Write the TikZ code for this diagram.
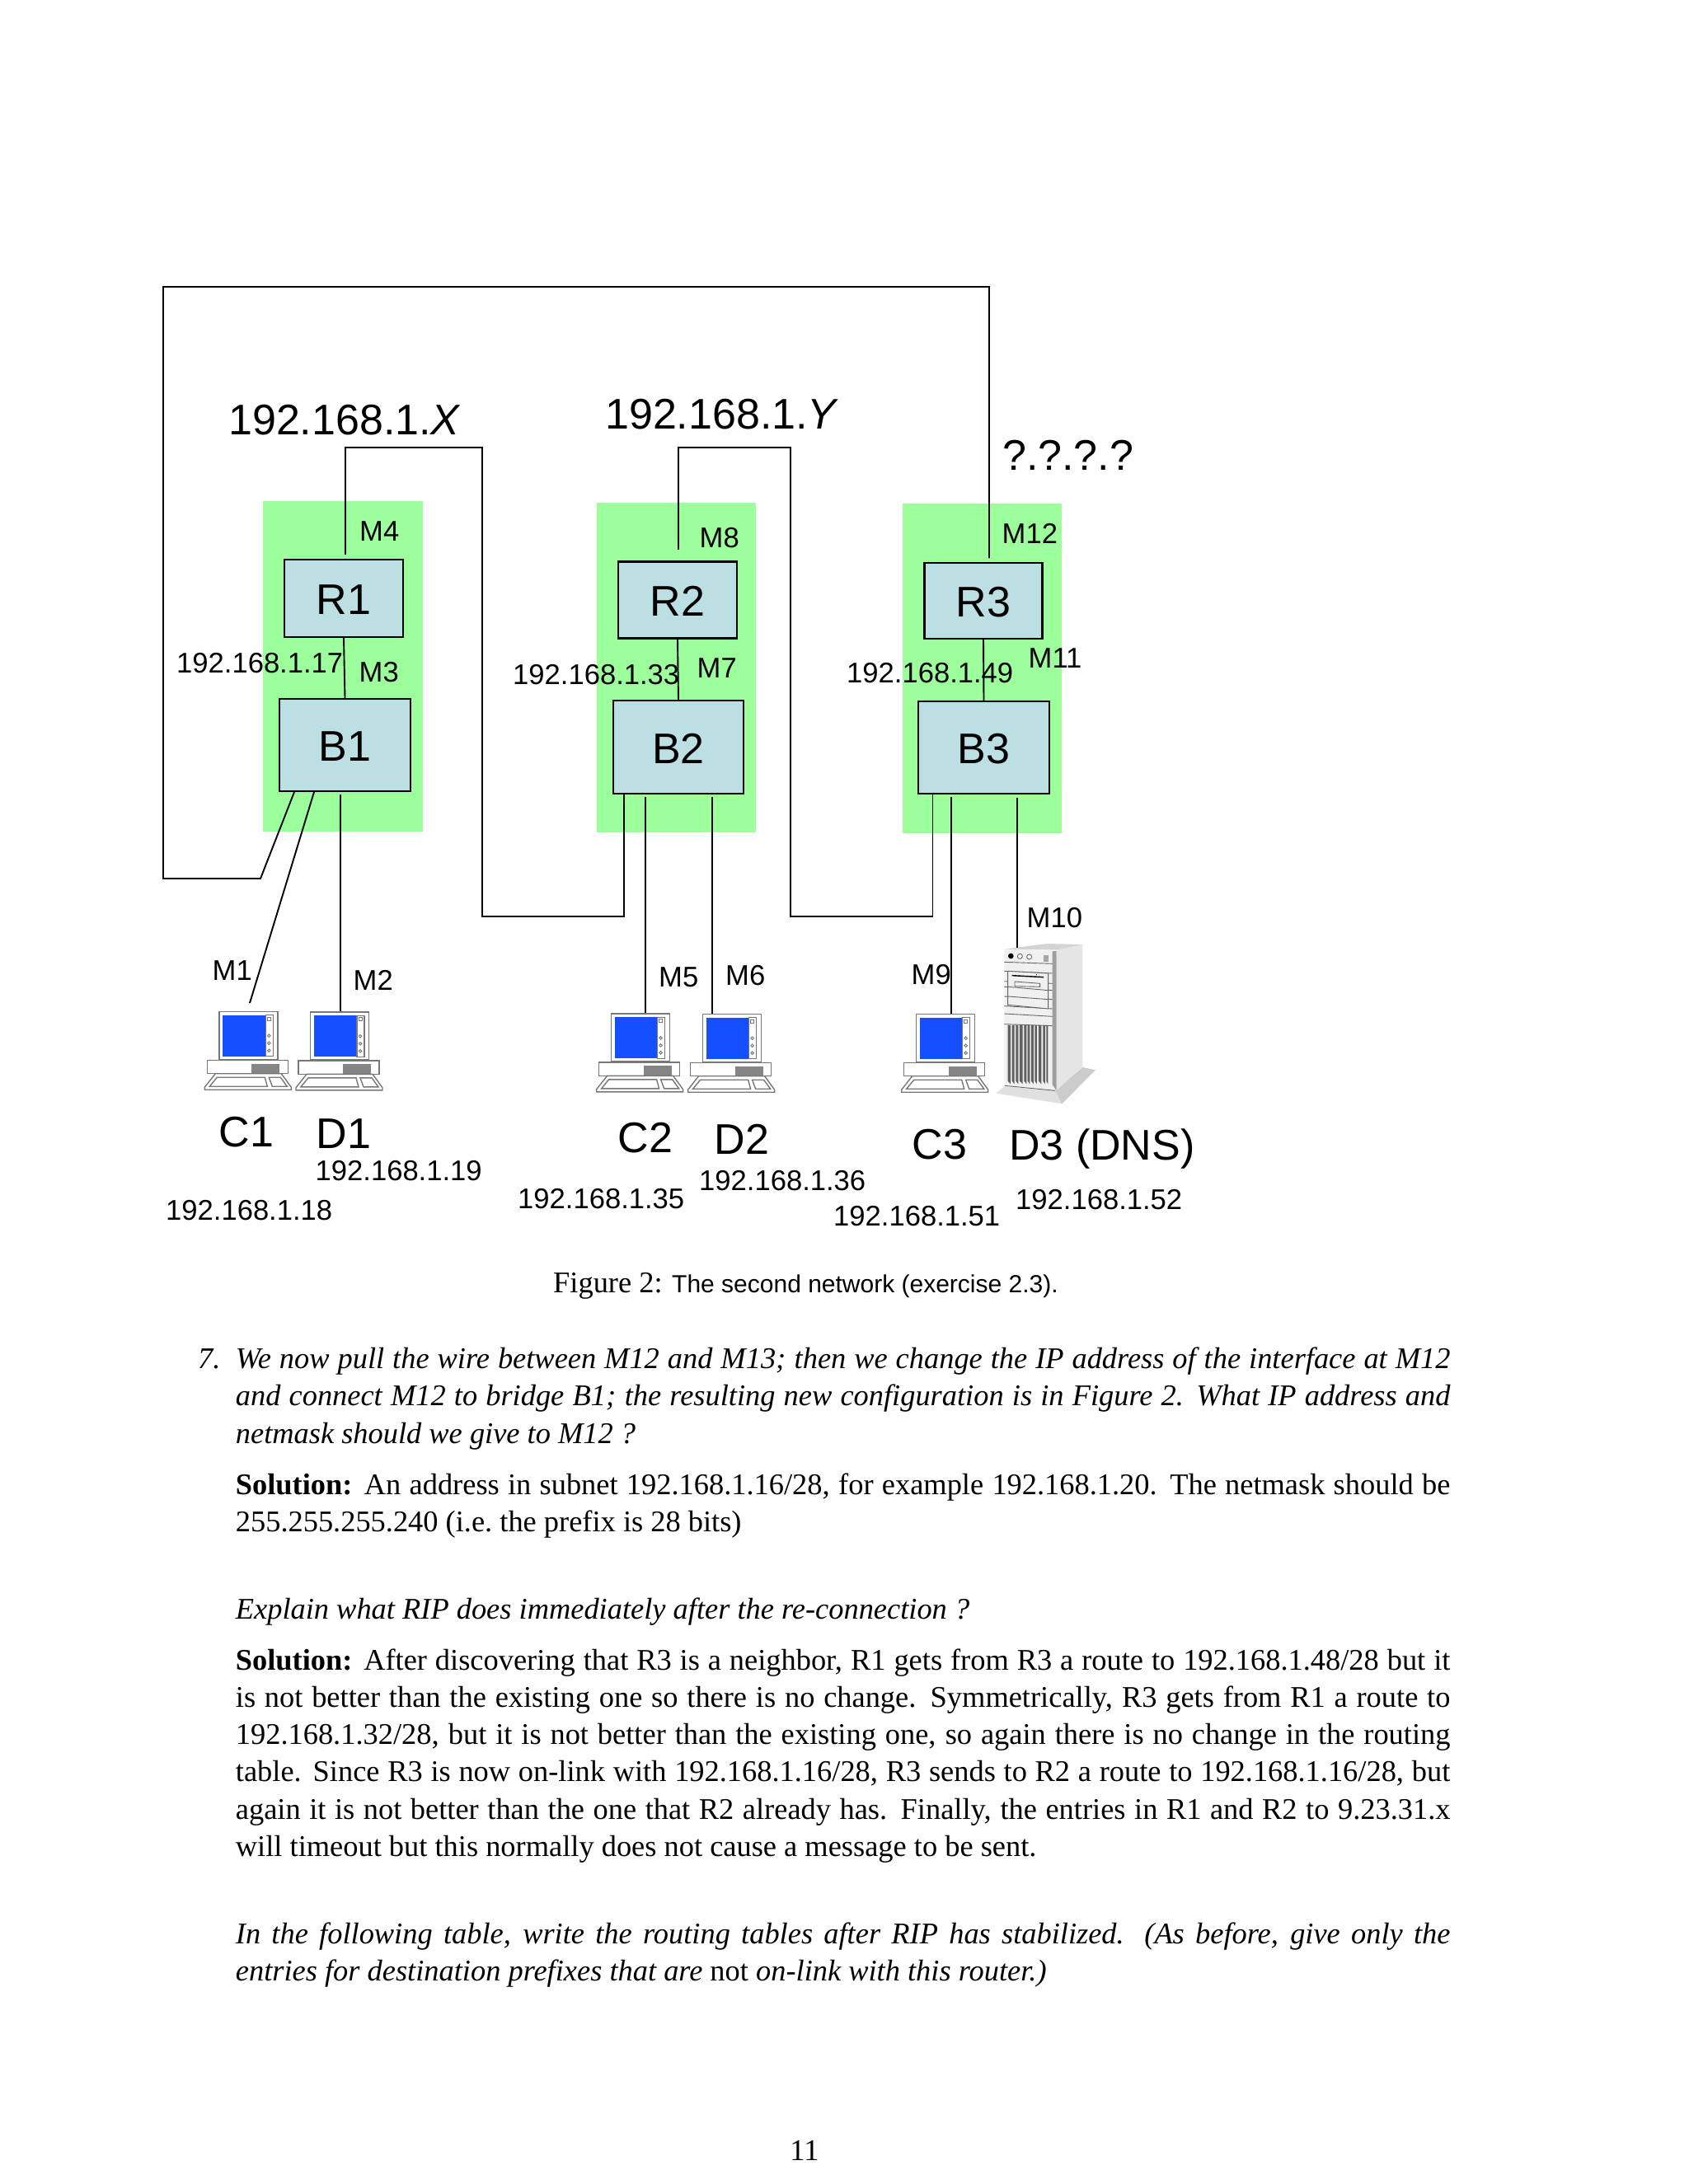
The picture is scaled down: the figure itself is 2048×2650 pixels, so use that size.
\documentclass[tikz,border=0pt]{standalone}
\usepackage{fontspec}
\setmainfont{Liberation Serif}
\setsansfont{Liberation Sans}
\usetikzlibrary{calc}
\definecolor{ink}{HTML}{000000}
\definecolor{zone}{HTML}{9CFF9C}
\definecolor{boxfill}{HTML}{BBDFE3}
\definecolor{screen}{HTML}{1450FF}
\definecolor{casing}{HTML}{777777}
\tikzset{
  wire/.style={line width=1.9pt, color=ink},
  devbox/.style={draw=ink, fill=boxfill, line width=2.2pt, inner sep=0pt, text height=39pt, text depth=0pt,
    font=\sffamily\fontsize{52}{52}\selectfont},
  lab/.style={inner sep=0pt, anchor=base west, text=ink, font=\sffamily\fontsize{34.6}{34.6}\selectfont},
  biglab/.style={lab, font=\sffamily\fontsize{52}{52}\selectfont},
  para/.style={inner sep=0pt, anchor=base west, text width=1473.5pt, align=justify,
    font=\rmfamily\fontsize{36.4}{45.3}\selectfont},
  pcline/.style={draw=casing, line width=1.4pt, fill=white},
  srvline/.style={draw=black!60, line width=0.9pt},
  pics/pc/.style={code={
    \node[pcline, anchor=north west, minimum width=71pt, minimum height=58pt, inner sep=0pt] (-mon) at (0,0) {};
    \fill[screen] (5,5) rectangle (57,55);
    \draw[pcline] (57,5) rectangle (66,55);
    \draw[pcline, line width=0.9pt] (59,7.5) rectangle (63,11.5);
    \foreach \y in {30,39,48} {\draw[pcline, line width=0.9pt] (61,\y) circle (1.8);}
    \draw[pcline] (-14,59.5) rectangle (84,76);
    \fill[casing!90] (40,64) rectangle (74,76);
    \draw[pcline] (-4,76) -- (76,76) -- (88,92.5) -- (88,95.5) -- (-17,95.5) -- (-17,92.5) -- cycle;
    \draw[pcline] (-2,80.5) -- (56,80.5) -- (59,91.5) -- (-11,91.5) -- cycle;
    \draw[pcline] (61,80.5) -- (75,80.5) -- (83,91.5) -- (65,91.5) -- cycle;
  }},
}
\begin{document}
\begin{tikzpicture}[x=1pt,y=-1pt]
  \useasboundingbox (0,0) rectangle (2048,2650);
  % green zones behind the routers
  \fill[zone] (319,608) rectangle (513,1009);
  \fill[zone] (724,610) rectangle (917,1010);
  \fill[zone] (1095,611) rectangle (1287.5,1011);

  \node[devbox, minimum width=144pt, minimum height=94pt] (R1) at (417,726) {R1};
  \node[devbox, minimum width=159pt, minimum height=112pt] (B1) at (418.5,904) {B1};
  \node[devbox, minimum width=144pt, minimum height=93pt] (R2) at (822,728) {R2};
  \node[devbox, minimum width=158pt, minimum height=113pt] (B2) at (823,906.5) {B2};
  \node[devbox, minimum width=143pt, minimum height=92pt] (R3) at (1193,729) {R3};
  \node[devbox, minimum width=159pt, minimum height=112pt] (B3) at (1193.5,907) {B3};

  % PCs
  \pic (C1pc) at (265.3,1226.7) {pc};
  \pic (D1pc) at (376,1227.3) {pc};
  \pic (C2pc) at (740.6,1229.3) {pc};
  \pic (D2pc) at (851.6,1229.7) {pc};
  \pic (C3pc) at (1110.7,1229.7) {pc};

  % DNS server
  \begin{scope}[shift={(1050,1080)},x=0.3333pt,y=-0.3333pt]
    \fill[black!12] (475,740) -- (505,715) -- (690,730) -- (715,778) -- cycle;
    \fill[black!20] (690,730) -- (790,645) -- (837,655) -- (715,778) -- cycle;
    \fill[black!10] (695,218) -- (790,198) -- (790,642) -- (695,730) -- cycle;
    \fill[black!17] (505,215) -- (660,195) -- (790,198) -- (695,218) -- cycle;
    \fill[black!6] (505,215) -- (695,218) -- (695,730) -- (505,712) -- cycle;
    \fill[black!38] (680,222) -- (695,222) -- (695,730) -- (680,708) -- cycle;
    \fill[black] (529,240) circle (10);
    \draw[srvline, fill=white] (562,241) circle (9) (596,243) circle (9);
    \fill[black!35] (648,236) rectangle (666,262);
    \draw[srvline] (505,262) -- (680,268) (505,295) -- (680,303) (505,332) -- (680,340)
      (505,352) -- (680,365) (505,387) -- (680,398) (505,422) -- (680,432)
      (505,450) -- (680,460) (505,488) -- (680,494) (507,712) -- (690,730);
    \draw[srvline, fill=black!6] (518,295) -- (665,303) -- (665,432) -- (518,418) -- cycle;
    \draw[srvline] (518,352) -- (665,365) (518,387) -- (665,398);
    \draw[line width=1.4pt] (533,311) -- (648,317);
    \fill[black] (622,308) circle (2);
    \draw[srvline] (543,333) -- (635,340) -- (635,352) -- (543,350) -- cycle;
    \foreach \a/\b in {518/528,533/542,547/556,561/572,577/586,590/598,603/612,616/624,630/640,646/654,658/664} {
      \fill[black!62] (\a,491) -- (\b,493) -- (\b,706) -- (\a,695) -- cycle;
    }
    \node[inner sep=0pt, minimum size=1pt] (srvtop) at (552,210) {};
  \end{scope}

  % named ends of the wires
  \coordinate (m4) at (419,673);
  \coordinate (m8) at (823,667);
  \coordinate (m12) at (1200,677);
  \coordinate (top) at (198,348);
  \coordinate (tail) at (316,1066);
  \coordinate (b1a) at (357,961);
  \coordinate (m1a) at (381,961);
  \coordinate (m1b) at (303,1217);
  \coordinate (m2) at (413,964);
  \coordinate (m5) at (783,967);
  \coordinate (m6) at (864,967);
  \coordinate (m9) at (1154,967);
  \coordinate (m10) at (1234,968);
  \coordinate (xa) at (585,543);
  \coordinate (xb) at (757,1112);
  \coordinate (xc) at (959,543);
  \coordinate (xd) at (1131.5,1112);

  \draw[wire] (R1.south) -- (B1.north);
  \draw[wire] (R2.south) -- (B2.north);
  \draw[wire] (R3.south) -- (B3.north);
  \draw[wire] (m4) |- (xa) |- (xb) -- (xb |- B2.south);
  \draw[wire] (m8) |- (xc) |- (xd) -- (xd |- B3.south);
  \draw[wire] (m12) |- (top) |- (tail) -- (b1a);
  \draw[wire] (m1a) -- (m1b);
  \draw[wire] (m2) -- (m2 |- D1pc-mon.north);
  \draw[wire] (m5) -- (m5 |- C2pc-mon.north);
  \draw[wire] (m6) -- (m6 |- D2pc-mon.north);
  \draw[wire] (m9) -- (m9 |- C3pc-mon.north);
  \draw[wire] (m10) -- (m10 |- srvtop);

  \node[biglab] (netx) at (277,527.5) {192.168.1.\textit{X}};
  \node[biglab] (nety) at (734,520) {192.168.1.\textit{Y}};
  \node[biglab] (netq) at (1216,570) {?.?.?.?};

  \node[lab] (l1) at (257.5,1189) {M1};
  \node[lab] (l2) at (428.5,1201) {M2};
  \node[lab] (l3) at (435.5,827) {M3};
  \node[lab] (l4) at (436,656) {M4};
  \node[lab] (l5) at (799,1197) {M5};
  \node[lab] (l6) at (880,1195) {M6};
  \node[lab] (l7) at (845.5,822) {M7};
  \node[lab] (l8) at (848.5,664) {M8};
  \node[lab] (l9) at (1105.5,1194) {M9};
  \node[lab] (l10) at (1245.5,1125) {M10};
  \node[lab] (l11) at (1247.5,810.5) {M11};
  \node[lab] (l12) at (1215.5,659.5) {M12};

  \node[lab] (ip17) at (214,816) {192.168.1.17};
  \node[lab] (ip33) at (622,830) {192.168.1.33};
  \node[lab] (ip49) at (1027,828) {192.168.1.49};
  \node[lab] (ip18) at (201,1480) {192.168.1.18};
  \node[lab] (ip19) at (382.5,1432) {192.168.1.19};
  \node[lab] (ip35) at (628,1466) {192.168.1.35};
  \node[lab] (ip36) at (848,1444) {192.168.1.36};
  \node[lab] (ip51) at (1011,1487) {192.168.1.51};
  \node[lab] (ip52) at (1232,1467) {192.168.1.52};

  \node[biglab] (C1) at (265.5,1391.5) {C1};
  \node[biglab] (D1) at (383.5,1393.5) {D1};
  \node[biglab] (C2) at (749.5,1398.5) {C2};
  \node[biglab] (D2) at (866.5,1400.5) {D2};
  \node[biglab] (C3) at (1106.5,1406) {C3};
  \node[biglab] (D3) at (1224,1407.5) {D3 (DNS)};

  \node[inner sep=0pt, anchor=base west, font=\rmfamily\fontsize{36.4}{36.4}\selectfont] (figlab) at (671,1568) {Figure 2:};
  \node[inner sep=0pt, anchor=base west, font=\sffamily\fontsize{30}{30}\selectfont] (figcap) at (815,1568) {The second network (exercise 2.3).};

  % text under the figure
  \node[inner sep=0pt, anchor=base west, font=\rmfamily\fontsize{36.4}{36.4}\selectfont\itshape] (num) at (240,1660) {7.};
  \node[para] (qa) at (285.7,1660.5) {\itshape We now pull the wire between M12 and M13; then we change the IP address of the interface at M12 and connect M12 to bridge B1; the resulting new configuration is in Figure 2. What IP address and netmask should we give to M12 ?};
  \node[para] (sa) at (285.7,1813.5) {\textbf{Solution:} An address in subnet 192.168.1.16/28, for example 192.168.1.20. The netmask should be 255.255.255.240 (i.e.\ the prefix is 28 bits)};
  \node[para] (qb) at (285.7,1964) {\itshape Explain what RIP does immediately after the re-connection ?};
  \node[para] (sb) at (285.7,2026) {\textbf{Solution:} After discovering that R3 is a neighbor, R1 gets from R3 a route to 192.168.1.48/28 but it is not better than the existing one so there is no change. Symmetrically, R3 gets from R1 a route to 192.168.1.32/28, but it is not better than the existing one, so again there is no change in the routing table. Since R3 is now on-link with 192.168.1.16/28, R3 sends to R2 a route to 192.168.1.16/28, but again it is not better than the one that R2 already has. Finally, the entries in R1 and R2 to 9.23.31.x will timeout but this normally does not cause a message to be sent.};
  \node[para] (qc) at (285.7,2358) {\itshape In the following table, write the routing tables after RIP has stabilized. (As before, give only the\linebreak entries for destination prefixes that are \textup{not} on-link with this router.)};
  \node[inner sep=0pt, anchor=base, font=\rmfamily\fontsize{36.4}{36.4}\selectfont] (pageno) at (976,2621) {11};
\end{tikzpicture}
\end{document}
